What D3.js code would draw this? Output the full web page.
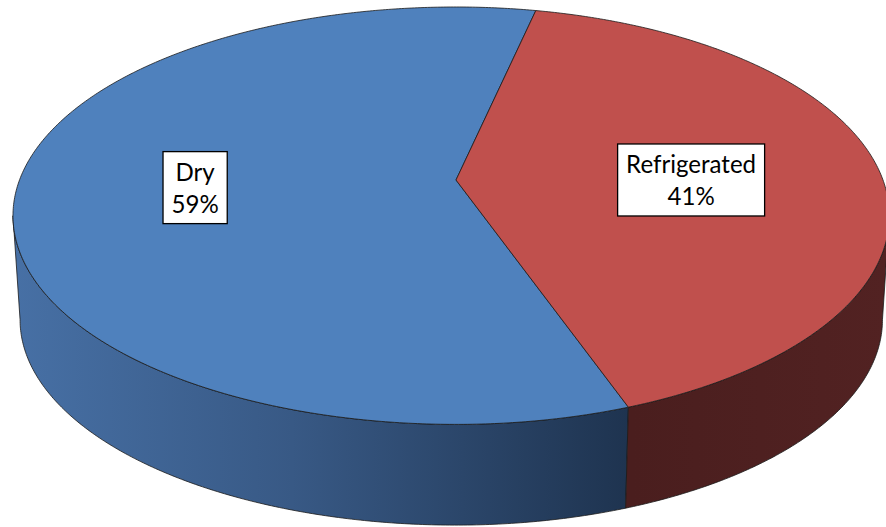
<!DOCTYPE html>
<html>
<head>
<meta charset="utf-8">
<script src="https://cdn.jsdelivr.net/npm/d3@7"></script>
<style>
  html, body { margin: 0; padding: 0; background: #ffffff; }
  svg { display: block; }
</style>
</head>
<body>
<div id="chart"></div>
<script>
// ---- data ----
const categories = ["Dry", "Refrigerated"];
const values = [59, 41];
const percentLabels = ["59%", "41%"];

// ---- styles ----
const topColors = ["#4F81BD", "#C0504D"];
const W = 886, H = 527;

// perspective projection of the pie disc (top face) and its base
const cx = 456, cy = 180, sxL = 436.5, sxR = 427, sy = 202.6, persp = 0.171;
const vpx = 456, vpy = 6719, baseScale = 0.984;
const startAngleDeg = 160.2;
const labelRadius = [0.595, 0.555];
const labelShiftY = [0, 7];

const rad = d => d * Math.PI / 180;
function projTop(a, r = 1) {
  const u = r * Math.sin(a), v = r * Math.cos(a);
  const w = 1 + persp * v;
  return [cx + (u > 0 ? sxR : sxL) * u / w, cy - sy * v / w];
}
function projBot(a, r = 1) {
  const [x, y] = projTop(a, r);
  return [vpx + baseScale * (x - vpx), vpy + baseScale * (y - vpy)];
}
function arcPts(a0, a1, fn) {
  const n = Math.max(2, Math.ceil(Math.abs(a1 - a0) / rad(0.5)));
  const pts = [];
  for (let i = 0; i <= n; i++) pts.push(fn(a0 + (a1 - a0) * i / n));
  return pts;
}

const svg = d3.select("#chart").append("svg")
  .attr("width", W).attr("height", H)
  .attr("viewBox", `0 0 ${W} ${H}`);

const defs = svg.append("defs");
const gBlue = defs.append("linearGradient").attr("id", "wall0")
  .attr("gradientUnits", "userSpaceOnUse")
  .attr("x1", 13).attr("x2", 633).attr("y1", 0).attr("y2", 0);
gBlue.append("stop").attr("offset", 0).attr("stop-color", "#4770A5");
gBlue.append("stop").attr("offset", 0.45).attr("stop-color", "#385985");
gBlue.append("stop").attr("offset", 1).attr("stop-color", "#1E334F");
const gRed = defs.append("linearGradient").attr("id", "wall1")
  .attr("gradientUnits", "userSpaceOnUse")
  .attr("x1", 633).attr("x2", 886).attr("y1", 0).attr("y2", 0);
gRed.append("stop").attr("offset", 0).attr("stop-color", "#4A1E1E");
gRed.append("stop").attr("offset", 1).attr("stop-color", "#522222");

const pie = d3.pie().sort(null).value(d => d)
  .startAngle(rad(startAngleDeg))
  .endAngle(rad(startAngleDeg) + 2 * Math.PI);
const arcs = pie(values);

const line = d3.line();
const outline = "#1b1b1b";

// front (visible) range of the cylinder wall: between the silhouettes
const F0 = Math.acos(-persp);
const F1 = 2 * Math.PI - Math.acos(-persp);

const walls = svg.append("g");
arcs.forEach((d, i) => {
  for (let n = -1; n <= 2; n++) {
    const lo = Math.max(d.startAngle, F0 + 2 * Math.PI * n);
    const hi = Math.min(d.endAngle, F1 + 2 * Math.PI * n);
    if (hi > lo) {
      const pts = arcPts(lo, hi, a => projTop(a)).concat(arcPts(hi, lo, a => projBot(a)));
      walls.append("path")
        .attr("d", line(pts) + "Z")
        .attr("fill", `url(#wall${i})`)
        .attr("stroke", outline)
        .attr("stroke-width", 0.8)
        .attr("stroke-linejoin", "round");
    }
  }
});

// top faces
const tops = svg.append("g");
arcs.forEach((d, i) => {
  const pts = [[cx, cy]].concat(arcPts(d.startAngle, d.endAngle, a => projTop(a)));
  tops.append("path")
    .attr("d", line(pts) + "Z")
    .attr("fill", topColors[i])
    .attr("stroke", outline)
    .attr("stroke-width", 0.8)
    .attr("stroke-linejoin", "round");
});

// labels
const fontFamily = "Lato, 'Open Sans', sans-serif";
const fs = 25.5;
const meas = svg.append("text").attr("font-family", fontFamily).attr("font-size", fs)
  .text("Refrigerated");
const squeeze = 130 / meas.node().getComputedTextLength();
meas.remove();
const lh = 32;
const capH = 0.7 * fs;

const labels = svg.append("g");
arcs.forEach((d, i) => {
  const mid = (d.startAngle + d.endAngle) / 2;
  const [lx, ly0] = projTop(mid, labelRadius[i]);
  const ly = ly0 + labelShiftY[i];
  const g = labels.append("g");
  const lines = [categories[i], percentLabels[i]];
  const widths = [];
  lines.forEach((s, j) => {
    const t = g.append("text")
      .attr("x", lx)
      .attr("y", ly - lh / 2 + capH / 2 + j * lh)
      .attr("text-anchor", "middle")
      .attr("font-family", fontFamily)
      .attr("font-size", fs)
      .attr("fill", "#000")
      .text(s);
    const nat = t.node().getComputedTextLength();
    const tl = nat * Math.min(1, squeeze);
    t.attr("textLength", tl).attr("lengthAdjust", "spacingAndGlyphs");
    widths.push(tl);
  });
  const bw = d3.max(widths) + 17, bh = 72;
  g.insert("rect", "text")
    .attr("x", lx - bw / 2).attr("y", ly - bh / 2)
    .attr("width", bw).attr("height", bh)
    .attr("fill", "#ffffff")
    .attr("stroke", "#000")
    .attr("stroke-width", 1.3);
});
</script>
</body>
</html>
